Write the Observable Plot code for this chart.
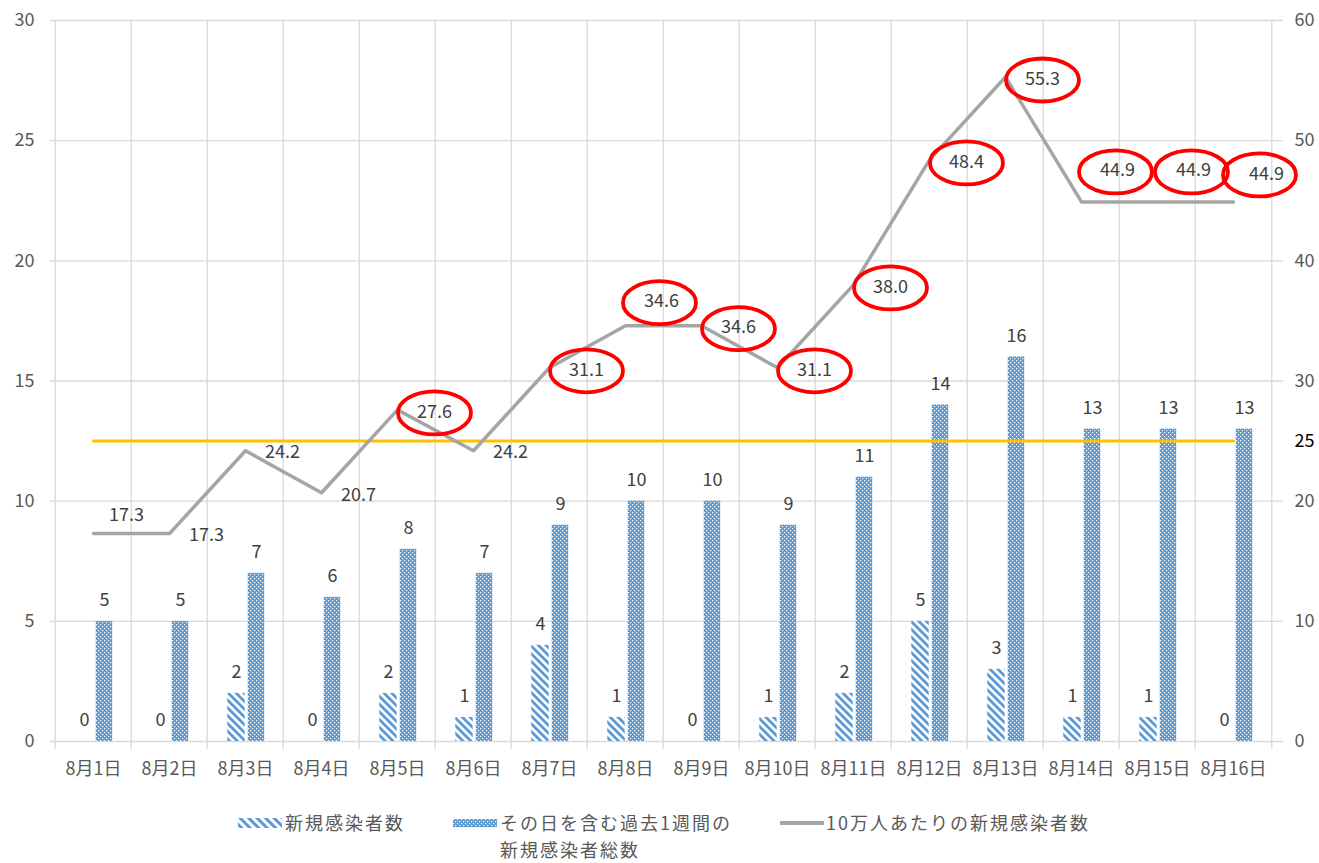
<!DOCTYPE html>
<html><head><meta charset="utf-8">
<script src="https://cdn.jsdelivr.net/npm/d3@7"></script>
<script src="https://cdn.jsdelivr.net/npm/@observablehq/plot@0.6"></script>
<style>
body{margin:0;background:#fff;font-family:"Noto Sans CJK JP","Noto Sans",sans-serif;}
#wrap{position:relative;width:1319px;height:863px;overflow:hidden;}
.lg{position:absolute;font-size:18px;line-height:18px;color:#595959;white-space:nowrap;letter-spacing:2px;}
.sw{position:absolute;}
</style></head><body>
<div id="wrap">
<div id="chart"></div>
<svg class="sw" style="left:238px;top:818px" width="44" height="10"><rect width="44" height="10" fill="url(#hatchLg)"/></svg>
<div class="lg" style="left:285px;top:813px">新規感染者数</div>
<svg class="sw" style="left:453px;top:819px" width="44" height="8"><rect width="44" height="8" fill="url(#dots)"/></svg>
<div class="lg" style="left:500px;top:813px">その日を含む過去1週間の</div>
<div class="lg" style="left:500px;top:840px">新規感染者総数</div>
<svg class="sw" style="left:780px;top:820px" width="44" height="6"><line x1="0" x2="44" y1="3" y2="3" stroke="#a5a5a5" stroke-width="4"/></svg>
<div class="lg" style="left:826px;top:813px">10万人あたりの新規感染者数</div>
</div>
<script>
const dates = ["8月1日","8月2日","8月3日","8月4日","8月5日","8月6日","8月7日","8月8日","8月9日","8月10日","8月11日","8月12日","8月13日","8月14日","8月15日","8月16日"];
const newCases = [0,0,2,0,2,1,4,1,0,1,2,5,3,1,1,0];
const weeklyTotal = [5,5,7,6,8,7,9,10,10,9,11,14,16,13,13,13];
const per100k = [17.3,17.3,24.2,20.7,27.6,24.2,31.1,34.6,34.6,31.1,38.0,48.4,55.3,44.9,44.9,44.9];
const leftTicks = [0,5,10,15,20,25,30];
const rightTicks = [0,10,20,30,40,50,60];
const threshold = 25; // per 100k (right axis)

const ratio = rightTicks[rightTicks.length-1] / leftTicks[leftTicks.length-1];
const rows = dates.map((d,i)=>({date:d, n:newCases[i], w:weeklyTotal[i], p:per100k[i]}));

const W = 1319, H = 800, ml = 50, mr = 44, mt = 20, mb = 59;
const bw = (W - ml - mr) / dates.length;
const blue = "#5b9bd5";
const textCol = "#595959";
const font = '"Noto Sans CJK JP","Noto Sans",sans-serif';
const fs = 18;

const ellipse = {draw(ctx){
  const rx = 36.5, ry = 21.5, k = 0.5523;
  ctx.moveTo(rx, 0);
  ctx.bezierCurveTo(rx, ry*k, rx*k, ry, 0, ry);
  ctx.bezierCurveTo(-rx*k, ry, -rx, ry*k, -rx, 0);
  ctx.bezierCurveTo(-rx, -ry*k, -rx*k, -ry, 0, -ry);
  ctx.bezierCurveTo(rx*k, -ry, rx, -ry*k, rx, 0);
  ctx.closePath();
}};

// label placement groups (offsets from the line vertex)
const liftedOne = ["8月1日"], liftedTwo = ["8月8日"], liftedThree = ["8月14日","8月15日"], liftedLast = ["8月16日"];
const special = [...liftedOne, ...liftedTwo, ...liftedThree, ...liftedLast];
const groups = [
  {f: d => !special.includes(d.date), dx: 37, dy: 2, edx: 37, edy: 3},
  {f: d => liftedOne.includes(d.date), dx: 33, dy: -18, edx: 33, edy: -18},
  {f: d => liftedTwo.includes(d.date), dx: 36, dy: -24, edx: 34, edy: -23},
  {f: d => liftedThree.includes(d.date), dx: 36, dy: -32, edx: 34, edy: -30},
  {f: d => liftedLast.includes(d.date), dx: 33, dy: -28, edx: 26, edy: -27},
];
const labelMarks = groups.flatMap(g => [
  Plot.text(rows, {filter: g.f, x: "date", y: d => d.p/ratio, text: d => d.p.toFixed(1),
    dx: g.dx, dy: g.dy, fill: "#404040", fontSize: fs, fontFamily: font}),
  Plot.dot(rows, {filter: d => g.f(d) && d.p > threshold, x: "date", y: d => d.p/ratio,
    symbol: ellipse, r: 20, fill: "none", stroke: "#ff0000", strokeWidth: 3.8, dx: g.edx, dy: g.edy})
]);

const svg = Plot.plot({
  width: W, height: H,
  marginLeft: ml, marginRight: mr, marginTop: mt, marginBottom: mb,
  style: {fontFamily: font, fontSize: fs + "px", background: "transparent"},
  x: {type: "band", domain: dates, paddingInner: 0, paddingOuter: 0, label: null},
  y: {domain: [leftTicks[0], leftTicks[leftTicks.length-1]], label: null},
  marks: [
    Plot.ruleY(leftTicks, {stroke: "#d9d9d9", strokeWidth: 1.3, insetRight: -8}),
    Plot.ruleX(dates, {dx: -bw/2, stroke: "#d9d9d9", strokeWidth: 1.3, insetBottom: -8}),
    Plot.ruleX(dates.slice(-1), {dx: bw/2, stroke: "#d9d9d9", strokeWidth: 1.3, insetBottom: -8}),
    Plot.barY(rows, {x: "date", y: "n", fill: "url(#hatch)", insetLeft: bw/2 - 18, insetRight: bw/2}),
    Plot.barY(rows, {x: "date", y: "w", fill: "url(#dots)", insetLeft: bw/2 + 2.5, insetRight: bw/2 - 19.5}),
    Plot.text(rows, {x: "date", y: "n", text: d => String(d.n), dx: -9, dy: -21, fill: "#404040", fontSize: fs, fontFamily: font}),
    Plot.text(rows, {x: "date", y: "w", text: d => String(d.w), dx: 11, dy: -21, fill: "#404040", fontSize: fs, fontFamily: font}),
    Plot.lineY(rows, {x: "date", y: () => threshold/ratio, stroke: "#ffc000", strokeWidth: 3}),
    Plot.lineY(rows, {x: "date", y: d => d.p/ratio, stroke: "#a5a5a5", strokeWidth: 3.5}),
    ...labelMarks,
    Plot.axisY({ticks: leftTicks, anchor: "left", tickSize: 0, tickPadding: 16, label: null, color: textCol, fontSize: fs}),
    Plot.axisY({ticks: leftTicks, anchor: "right", tickSize: 0, tickPadding: 19, tickFormat: d => d*ratio, label: null, color: textCol, fontSize: fs}),
    Plot.axisY({ticks: [threshold/ratio], anchor: "right", tickSize: 0, tickPadding: 19, tickFormat: () => String(threshold), label: null, color: "#000", fontSize: fs}),
    Plot.axisX({anchor: "bottom", tickSize: 0, tickPadding: 21, label: null, color: textCol, fontSize: fs, style: {letterSpacing: "1px"}})
  ]
});

const defs = d3.select(svg).insert("defs", ":first-child");
function hatch(id, size, sw){
  const p = defs.append("pattern").attr("id", id).attr("patternUnits", "userSpaceOnUse")
    .attr("width", size).attr("height", size).attr("patternTransform", "rotate(-45)");
  p.append("rect").attr("width", size).attr("height", size).attr("fill", "#fff");
  p.append("rect").attr("width", sw).attr("height", size).attr("fill", blue);
}
hatch("hatch", 5.5, 2.8);
hatch("hatchLg", 6, 3);
const dp = defs.append("pattern").attr("id", "dots").attr("patternUnits", "userSpaceOnUse").attr("width", 4).attr("height", 4);
dp.append("rect").attr("width", 4).attr("height", 4).attr("fill", blue);
dp.append("rect").attr("x", 0).attr("y", 0).attr("width", 1.2).attr("height", 1.2).attr("fill", "#ffffff");
dp.append("rect").attr("x", 2).attr("y", 2).attr("width", 1.2).attr("height", 1.2).attr("fill", "#ffffff");

document.getElementById("chart").appendChild(svg);
</script>
</body></html>
